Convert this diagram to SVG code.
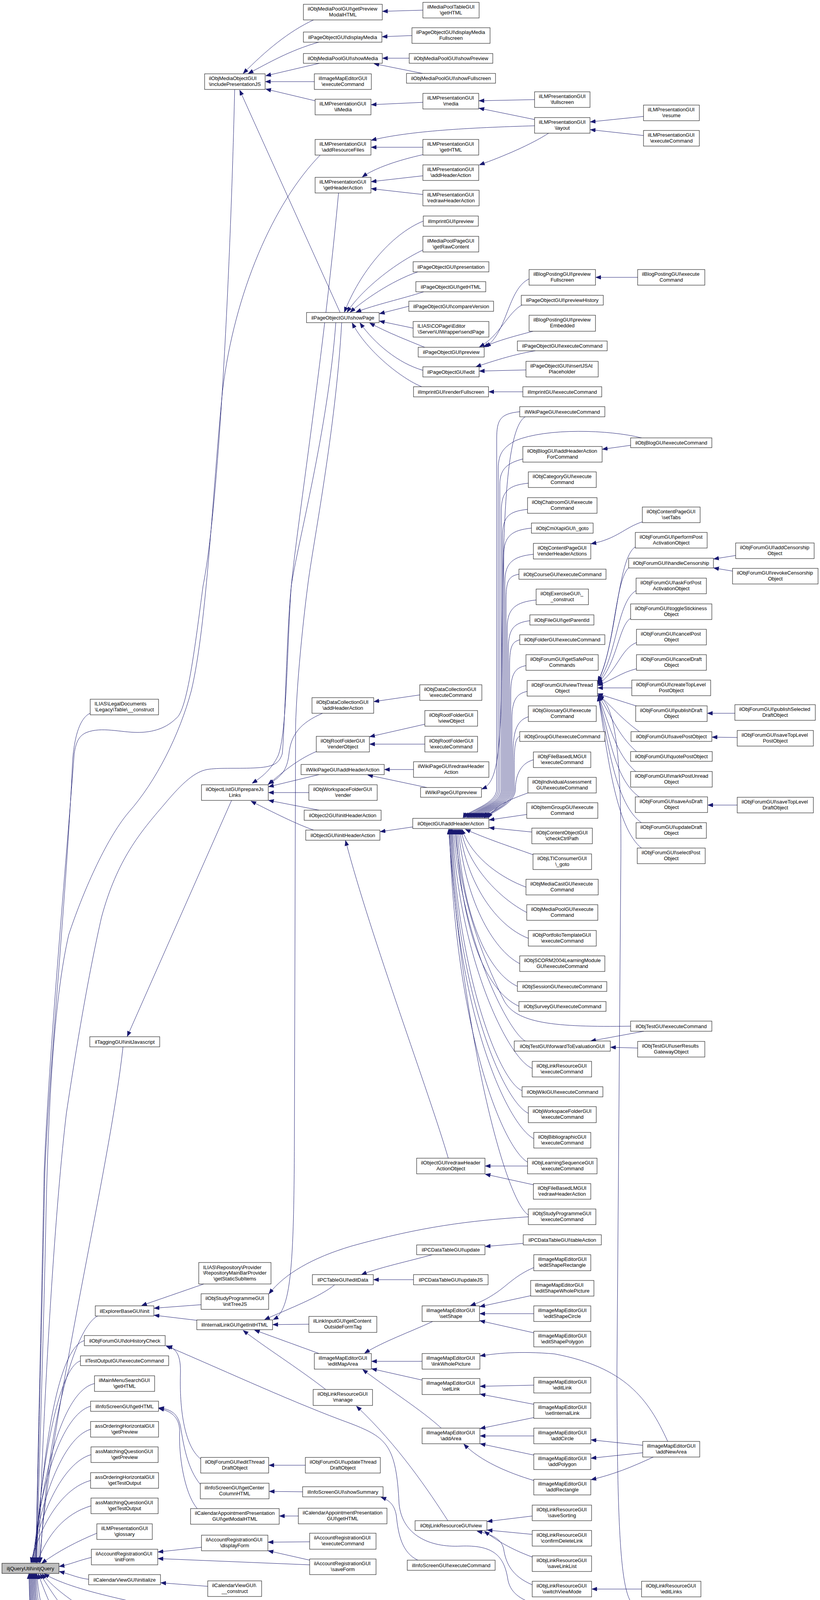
<svg xmlns="http://www.w3.org/2000/svg" width="2100" height="5149" viewBox="0 0 2100 5149">
<defs>
<style>
.n rect{fill:#fff;stroke:#000;stroke-width:1}
#root rect{fill:#bfbfbf}
.n text{font-family:"Liberation Sans",Arial,Helvetica,sans-serif;font-size:13px;fill:#000}
.c{text-anchor:middle}
#edges path{fill:none;stroke:#191970;stroke-width:1;marker-end:url(#arr)}
</style>
<marker id="arr" markerUnits="userSpaceOnUse" markerWidth="14" markerHeight="11" refX="13" refY="5" orient="auto"><path d="M0,0 L13,5 L0,10 z" fill="#191970" stroke="#191970" stroke-width="1"/></marker>
</defs>
<rect width="2100" height="5149" fill="#fff"/>
<g id="edges">
<path d="M601,229 C590,700 560,1300 520,1500 C500,1650 480,1820 451,1839 C420,1870 380,1875 352,1875 C310,1875 260,1860 222,1875 C205,1882 195,1895 190,1930 C170,2200 125,2700 113,3000 C105,3400 95,3800 92,4000"/>
<path d="M820,397 C700,520 600,750 570,1000 C545,1250 530,1600 490,1768 C460,1880 400,2000 329,2080 C270,2150 210,2290 176,2393 C140,2550 125,2800 118,3100 C110,3500 98,3800 95,4000"/>
<path d="M860,826 C840,1100 760,1400 746,1500 C735,1600 730,1850 723,1929 C715,1955 700,1964 650,1966 C600,1968 560,1965 530,1970 C500,1976 470,2000 420,2060 C360,2130 300,2200 260,2348 C230,2480 200,2650 170,2850 C140,3100 110,3600 99,4000"/>
<path d="M231,1826 C210,1835 192,1870 186,1946 C170,2300 125,2750 115,3000 C107,3400 96,3800 93,4000"/>
<path d="M315,2680 C280,3000 130,3600 101,4000"/>
<path d="M250,3369 C190,3400 120,3650 103,4000"/>
<path d="M216,3432 C150,3450 110,3700 91,4000"/>
<path d="M206,3484 C150,3500 105,3750 89,4000"/>
<path d="M242,3542 C160,3560 105,3780 87,4000"/>
<path d="M232,3600 C160,3620 100,3800 85,4000"/>
<path d="M232,3659 C160,3680 100,3850 83,4000"/>
<path d="M233,3724 C160,3745 100,3880 81,4000"/>
<path d="M232,3790 C160,3810 105,3900 79,4000"/>
<path d="M233,3855 C165,3875 120,3930 95,4001"/>
<path d="M248,3925 C200,3945 150,3970 107,4002"/>
<path d="M234,3987 C200,3995 180,4005 152,4010"/>
<path d="M227,4043 C200,4040 180,4030 152,4023"/>
<path d="M244,4134 C200,4110 140,4070 108,4029"/>
<path d="M526,4140 C400,4110 200,4080 113,4029"/>
<path d="M271,4210 C230,4200 170,4140 103,4029"/>
<path d="M220,4251 C190,4220 140,4150 98,4029"/>
<path d="M241,4334 C170,4315 110,4200 94,4029"/>
<path d="M216,4400 C160,4380 105,4250 92,4029"/>
<path d="M220,4465 C160,4445 100,4300 90,4029"/>
<path d="M242,4531 C170,4510 98,4350 88,4029"/>
<path d="M244,4603 C170,4585 96,4400 86,4029"/>
<path d="M228,4671 C160,4655 94,4450 84,4029"/>
<path d="M222,4722 C155,4705 92,4500 82,4029"/>
<path d="M246,4773 C160,4755 90,4550 80,4029"/>
<path d="M234,4829 C160,4810 88,4600 78,4029"/>
<path d="M231,4894 C160,4875 86,4650 76,4029"/>
<path d="M256,4983 C200,4930 90,4700 74,4029"/>
<path d="M803,51 C740,80 680,130 623,188"/>
<path d="M816,108 C740,130 690,160 636,188"/>
<path d="M818,162 L681,194"/>
<path d="M805,209 L680,209"/>
<path d="M807,258 L681,228"/>
<path d="M871,800 L614,231"/>
<path d="M1083,26 L980,29"/>
<path d="M1055,91 L979,94"/>
<path d="M1048,149 L980,149"/>
<path d="M1082,188 L958,163"/>
<path d="M1083,262 L951,268"/>
<path d="M1369,255 L1227,258"/>
<path d="M1369,306 L1227,277"/>
<path d="M1648,298 L1512,312"/>
<path d="M1648,347 L1512,332"/>
<path d="M1369,322 C1200,327 1050,335 951,359"/>
<path d="M1083,377 L951,377"/>
<path d="M1083,396 C1020,410 960,430 928,453"/>
<path d="M1083,450 L951,465"/>
<path d="M1083,498 L951,483"/>
<path d="M1405,341 C1360,370 1290,400 1228,422"/>
<path d="M1084,566 C1000,600 920,700 882,799"/>
<path d="M1083,640 C1000,680 920,750 889,799"/>
<path d="M1070,696 C1000,720 930,770 897,799"/>
<path d="M1085,747 C1030,765 960,780 912,799"/>
<path d="M1047,784 L972,803"/>
<path d="M1058,840 L972,822"/>
<path d="M1090,890 C1040,870 990,850 947,827"/>
<path d="M1083,948 C1020,930 960,880 922,827"/>
<path d="M1080,990 C1030,970 940,900 902,827"/>
<path d="M1355,714 C1300,740 1300,850 1244,888"/>
<path d="M1338,780 C1300,800 1280,860 1228,888"/>
<path d="M1365,848 C1320,860 1280,870 1238,888"/>
<path d="M1371,898 C1330,905 1290,915 1219,939"/>
<path d="M1347,947 L1228,950"/>
<path d="M1339,1003 L1252,1003"/>
<path d="M1633,710 L1526,710"/>
<path d="M867,494 C830,900 760,1350 746,1500 C735,1650 735,1880 712,1935 C695,1970 670,1990 646,2005"/>
<path d="M826,1826 C770,1850 745,1880 740,1930 C736,1970 720,1990 688,2006"/>
<path d="M810,1924 C760,1945 720,1980 687,2008"/>
<path d="M817,1983 L688,2014"/>
<path d="M791,2029 L688,2029"/>
<path d="M817,2074 L688,2049"/>
<path d="M803,2125 C760,2110 700,2080 643,2051"/>
<path d="M593,2049 L326,2653"/>
<path d="M1075,1779 L958,1796"/>
<path d="M1088,1854 L947,1886"/>
<path d="M1088,1905 L947,1905"/>
<path d="M1059,1970 L985,1970"/>
<path d="M1093,2016 L942,1984"/>
<path d="M1345,1067 C1290,1100 1288,1400 1285,1700 C1283,1950 1270,2005 1234,2020"/>
<path d="M1057,2117 L974,2129"/>
<path d="M1148,2965 C1100,2800 950,2400 885,2152"/>
<path d="M1331,1054 C1281,1059 1272,1074 1272,1124 L1272,2020 C1272,2060 1196,2075 1186,2094"/>
<path d="M1643,1121 C1560,1100 1400,1095 1320,1128 C1290,1145 1276,1160 1276,1200 L1276,2020 C1276,2060 1200,2075 1190,2094"/>
<path d="M1339,1175 C1300,1185 1280,1200 1280,1240 L1280,2020 C1280,2060 1205,2075 1195,2094"/>
<path d="M1353,1237 C1303,1242 1284,1257 1284,1307 L1284,2020 C1284,2060 1209,2075 1199,2094"/>
<path d="M1351,1304 C1301,1309 1287,1324 1287,1374 L1287,2020 C1287,2060 1213,2075 1203,2094"/>
<path d="M1361,1352 C1311,1357 1290,1372 1290,1422 L1290,2020 C1290,2060 1217,2075 1207,2094"/>
<path d="M1366,1419 C1316,1424 1293,1439 1293,1489 L1293,2020 C1293,2060 1221,2075 1211,2094"/>
<path d="M1329,1470 C1300,1475 1296,1490 1296,1540 L1296,2020 C1296,2060 1225,2075 1215,2094"/>
<path d="M1373,1536 C1323,1541 1299,1556 1299,1606 L1299,2020 C1299,2060 1229,2075 1219,2094"/>
<path d="M1357,1589 C1317,1594 1302,1609 1302,1659 L1302,2020 C1302,2060 1233,2075 1223,2094"/>
<path d="M1331,1638 C1310,1643 1305,1658 1305,1708 L1305,2020 C1305,2060 1237,2075 1227,2094"/>
<path d="M1347,1704 C1320,1709 1308,1724 1308,1774 L1308,2020 C1308,2060 1241,2075 1231,2094"/>
<path d="M1350,1770 C1325,1775 1311,1790 1311,1840 L1311,2020 C1311,2060 1245,2075 1235,2094"/>
<path d="M1353,1835 C1320,1845 1314,1880 1314,1930 L1314,2020 C1314,2060 1249,2078 1239,2094"/>
<path d="M1331,1885 C1318,1890 1317,1920 1317,1960 L1317,2020 C1317,2060 1252,2078 1242,2094"/>
<path d="M1366,1945 C1330,1955 1320,1990 1320,2020 C1320,2060 1256,2078 1246,2094"/>
<path d="M1352,2030 C1310,2045 1270,2060 1250,2094"/>
<path d="M1349,2085 L1253,2099"/>
<path d="M1362,2130 L1253,2119"/>
<path d="M1365,2188 C1300,2165 1240,2145 1192,2123"/>
<path d="M1347,2271 C1290,2250 1210,2200 1183,2123"/>
<path d="M1349,2336 C1280,2300 1200,2220 1180,2123"/>
<path d="M1353,2402 C1270,2370 1195,2260 1177,2123"/>
<path d="M1331,2467 C1260,2430 1190,2300 1174,2123"/>
<path d="M1325,2525 C1250,2490 1185,2350 1171,2123"/>
<path d="M1329,2576 C1250,2540 1182,2400 1168,2123"/>
<path d="M1615,2627 C1420,2630 1320,2620 1290,2560 C1230,2440 1180,2300 1165,2123"/>
<path d="M1345,2665 C1300,2640 1180,2400 1162,2123"/>
<path d="M1363,2735 C1300,2710 1176,2450 1159,2123"/>
<path d="M1337,2792 C1280,2770 1173,2500 1157,2123"/>
<path d="M1353,2850 C1290,2820 1170,2550 1155,2123"/>
<path d="M1367,2915 C1300,2880 1168,2600 1153,2123"/>
<path d="M1351,2975 C1290,2940 1166,2650 1151,2123"/>
<path d="M1353,3110 C1300,3080 1190,2700 1149,2123"/>
<path d="M1351,2985 L1243,2985"/>
<path d="M1366,3033 L1243,3006"/>
<path d="M1615,1140 L1543,1150"/>
<path d="M1645,1336 C1600,1350 1580,1380 1514,1392"/>
<path d="M1627,1400 C1580,1430 1580,1650 1531,1744"/>
<path d="M1612,1452 C1575,1480 1575,1660 1531,1746"/>
<path d="M1629,1512 C1580,1540 1580,1680 1531,1748"/>
<path d="M1615,1583 C1585,1600 1580,1700 1531,1750"/>
<path d="M1630,1645 C1590,1660 1580,1720 1531,1752"/>
<path d="M1630,1712 C1590,1722 1570,1740 1531,1755"/>
<path d="M1618,1761 L1531,1761"/>
<path d="M1632,1808 L1531,1776"/>
<path d="M1639,1874 C1590,1840 1560,1800 1532,1779"/>
<path d="M1630,1924 C1580,1880 1560,1820 1532,1780"/>
<path d="M1630,1977 C1575,1930 1560,1850 1532,1781"/>
<path d="M1640,2042 C1575,2000 1560,1880 1532,1781"/>
<path d="M1645,2108 C1575,2060 1558,1900 1532,1782"/>
<path d="M1645,2173 C1575,2120 1555,1920 1532,1782"/>
<path d="M1627,4114 C1595,4090 1580,4000 1580,3500 L1590,2200 C1592,1900 1570,1800 1533,1783"/>
<path d="M1619,4127 C1400,4125 1310,4110 1300,4040 C1290,3980 1260,3955 1180,3958 C1100,3962 1030,3930 1022,3850 C1015,3700 990,3680 900,3645 C750,3590 600,3520 425,3445"/>
<path d="M1884,1422 L1828,1431"/>
<path d="M1876,1462 L1828,1454"/>
<path d="M1882,1826 L1812,1826"/>
<path d="M1888,1888 L1824,1887"/>
<path d="M1888,2061 L1813,2061"/>
<path d="M1649,2640 L1513,2665"/>
<path d="M1633,2683 L1564,2681"/>
<path d="M514,3735 C470,3700 460,3600 462,3520 C464,3470 452,3452 428,3446"/>
<path d="M513,3800 C480,3760 470,3700 462,3650 C455,3620 440,3608 407,3604"/>
<path d="M505,3862 C470,3820 458,3720 460,3670 C462,3630 440,3612 407,3606"/>
<path d="M782,3751 L689,3751"/>
<path d="M775,3819 L690,3818"/>
<path d="M1070,3994 C1030,3975 1020,3930 1015,3880 C1010,3850 995,3840 976,3833"/>
<path d="M764,3881 L716,3881"/>
<path d="M516,3961 L405,3973"/>
<path d="M793,4006 L405,3990"/>
<path d="M793,3947 L687,3948"/>
<path d="M793,3994 L687,3970"/>
<path d="M532,4061 L412,4052"/>
<path d="M526,4154 L415,4154"/>
<path d="M804,4154 L677,4154"/>
<path d="M806,4217 L677,4177"/>
<path d="M542,4212 L369,4212"/>
<path d="M509,4271 L441,4271"/>
<path d="M1047,4196 L953,4221"/>
<path d="M1063,4250 L953,4240"/>
<path d="M1063,4300 C1030,4290 990,4270 953,4255"/>
<path d="M1341,4186 L1265,4186"/>
<path d="M1618,4186 L1540,4186"/>
<path d="M1347,4251 L1249,4251"/>
<path d="M1627,4251 L1533,4251"/>
<path d="M1347,4317 L1249,4317"/>
<path d="M1627,4317 L1533,4317"/>
<path d="M509,4617 C470,4640 465,4700 455,4735 C445,4755 420,4762 393,4767"/>
<path d="M512,4668 C480,4690 470,4740 440,4760 C425,4768 410,4770 393,4770"/>
<path d="M512,4734 L390,4762"/>
<path d="M530,4773 L393,4773"/>
<path d="M508,4831 L405,4831"/>
<path d="M513,4896 L408,4896"/>
<path d="M492,4985 L430,4994"/>
<path d="M494,5034 L430,5026"/>
<path d="M526,5103 C490,5085 430,5060 376,5038"/>
<path d="M763,5123 L710,5123"/>
<path d="M522,3287 L363,3342"/>
<path d="M515,3340 L395,3349"/>
<path d="M504,3380 L395,3367"/>
<path d="M1353,3115 C1200,3125 1080,3140 900,3190 C800,3220 730,3260 689,3312"/>
<path d="M857,3289 C820,3320 740,3350 678,3378"/>
<path d="M875,826 C860,1100 800,1400 788,1500 C775,1600 760,1750 757,1857 L754,2900 C753,3250 745,3355 700,3378"/>
<path d="M791,3390 L699,3391"/>
<path d="M817,3465 L652,3405"/>
<path d="M834,3557 C760,3500 680,3450 623,3406"/>
<path d="M1107,3212 C1050,3228 970,3245 926,3263"/>
<path d="M1059,3276 L957,3276"/>
<path d="M1340,3183 L1243,3191"/>
<path d="M1108,3383 C1050,3410 980,3435 934,3464"/>
<path d="M1081,3485 L952,3485"/>
<path d="M1081,3533 L952,3504"/>
<path d="M1130,3656 C1080,3610 1000,3560 929,3506"/>
<path d="M1367,3245 C1320,3265 1300,3290 1270,3310 C1240,3330 1225,3335 1205,3342"/>
<path d="M1359,3317 L1229,3345"/>
<path d="M1367,3363 L1229,3363"/>
<path d="M1367,3412 L1229,3381"/>
<path d="M1710,3690 C1660,3580 1600,3500 1420,3466 C1330,3458 1270,3465 1230,3471"/>
<path d="M1367,3546 L1230,3549"/>
<path d="M1367,3595 L1230,3569"/>
<path d="M1367,3629 L1230,3657"/>
<path d="M1367,3676 L1230,3676"/>
<path d="M1367,3725 L1230,3696"/>
<path d="M1367,3790 C1300,3770 1230,3740 1188,3697"/>
<path d="M1646,3700 L1514,3686"/>
<path d="M1646,3719 L1514,3733"/>
<path d="M1673,3730 C1620,3755 1570,3775 1514,3788"/>
<path d="M1363,3881 L1248,3895"/>
<path d="M1363,3928 L1248,3917"/>
<path d="M1363,3986 C1320,3970 1280,3950 1241,3920"/>
<path d="M1363,4057 C1310,4035 1295,4000 1290,3966 C1285,3940 1260,3928 1222,3920"/>
<path d="M1643,4068 L1516,4068"/>
<path d="M1147,3893 C1100,3820 1020,3700 913,3600"/>
</g>
<g id="nodes">
<g id="root" class="n"><rect x="5" y="4002" width="146" height="26"/><text class="c" x="78" y="4019.5">iljQueryUtil\initjQuery</text></g>
<g id="includePresentationJS" class="n"><rect x="524" y="189" width="155" height="40"/><text x="535" y="205.4">ilObjMediaObjectGUI</text><text class="c" x="601.5" y="220.2">\includePresentationJS</text></g>
<g id="prepareJsLinks" class="n"><rect x="516" y="2009" width="171" height="40"/><text x="527" y="2025.4">ilObjectListGUI\prepareJs</text><text class="c" x="601.5" y="2040.2">Links</text></g>
<g id="repoProvider" class="n"><rect x="509" y="3232" width="185" height="55"/><text x="520" y="3248.6">ILIAS\Repository\Provider</text><text x="520" y="3263.4">\RepositoryMainBarProvider</text><text class="c" x="601.5" y="3278.2">\getStaticSubItems</text></g>
<g id="initTreeJS" class="n"><rect x="515" y="3312" width="173" height="40"/><text x="526" y="3328.4">ilObjStudyProgrammeGUI</text><text class="c" x="601.5" y="3343.2">\initTreeJS</text></g>
<g id="getInitHTML" class="n"><rect x="504" y="3379" width="194" height="25"/><text class="c" x="601" y="3396">ilInternalLinkGUI\getInitHTML</text></g>
<g id="editThreadDraft" class="n"><rect x="514" y="3731" width="174" height="40"/><text x="525" y="3747.4">ilObjForumGUI\editThread</text><text class="c" x="601" y="3762.2">DraftObject</text></g>
<g id="getCenterColumnHTML" class="n"><rect x="513" y="3797" width="176" height="40"/><text x="524" y="3813.4">ilInfoScreenGUI\getCenter</text><text class="c" x="601" y="3828.2">ColumnHTML</text></g>
<g id="getModalHTML" class="n"><rect x="488" y="3862" width="227" height="40"/><text x="499" y="3878.4">ilCalendarAppointmentPresentation</text><text class="c" x="601.5" y="3893.2">GUI\getModalHTML</text></g>
<g id="displayForm" class="n"><rect x="516" y="3930" width="170" height="40"/><text x="527" y="3946.4">ilAccountRegistrationGUI</text><text class="c" x="601" y="3961.2">\displayForm</text></g>
<g id="calConstruct" class="n"><rect x="532" y="4047" width="138" height="40"/><text x="543" y="4063.4">ilCalendarViewGUI\</text><text class="c" x="601" y="4078.2">__construct</text></g>
<g id="prepareBasicJS" class="n"><rect x="526" y="4134" width="150" height="40"/><text x="537" y="4150.4">ilGlobalPageTemplate</text><text class="c" x="601" y="4165.2">\prepareBasicJS</text></g>
<g id="chartGetHTML" class="n"><rect x="542" y="4199" width="119" height="26"/><text class="c" x="601.5" y="4216.5">ilChart\getHTML</text></g>
<g id="loadItems" class="n"><rect x="509" y="4251" width="185" height="40"/><text x="520" y="4267.4">ilLPObjectStatisticsLPTable</text><text class="c" x="601.5" y="4282.2">GUI\loadItems</text></g>
<g id="getTableFilterHTML" class="n"><rect x="488" y="4592" width="227" height="25"/><text class="c" x="601.5" y="4609">ilTextInputGUI\getTableFilterHTML</text></g>
<g id="getToolbarHTML" class="n"><rect x="497" y="4642" width="208" height="25"/><text class="c" x="601" y="4659">ilTextInputGUI\getToolbarHTML</text></g>
<g id="assLongmenu" class="n"><rect x="512" y="4694" width="178" height="40"/><text x="523" y="4710.4">ilAssLongmenuCorrections</text><text class="c" x="601" y="4725.2">InputGUI\insert</text></g>
<g id="textInsert" class="n"><rect x="530" y="4760" width="143" height="26"/><text class="c" x="601.5" y="4777.5">ilTextInputGUI\insert</text></g>
<g id="mnoGetHTML" class="n"><rect x="508" y="4811" width="187" height="40"/><text x="519" y="4827.4">ilMultipleNestedOrdering</text><text class="c" x="601.5" y="4842.2">ElementsInputGUI\getHTML</text></g>
<g id="sendPrintView" class="n"><rect x="513" y="4876" width="176" height="40"/><text x="524" y="4892.4">ILIAS\Export\PrintProcess</text><text class="c" x="601" y="4907.2">GUI\sendPrintView</text></g>
<g id="applyMan" class="n"><rect x="492" y="4943" width="219" height="55"/><text x="503" y="4959.6">ilTestScoringByQuestions</text><text x="503" y="4974.4">GUI\applyManScoringByQuestion</text><text class="c" x="601.5" y="4989.2">Filter</text></g>
<g id="resetMan" class="n"><rect x="494" y="5022" width="215" height="55"/><text x="505" y="5038.6">ilTestScoringByQuestions</text><text x="505" y="5053.4">GUI\resetManScoringByQuestion</text><text class="c" x="601.5" y="5068.2">Filter</text></g>
<g id="saveMan" class="n"><rect x="494" y="5103" width="215" height="40"/><text x="505" y="5119.4">ilTestScoringByQuestions</text><text class="c" x="601.5" y="5134.2">GUI\saveManScoringByQuestion</text></g>
<g id="legalDocs" class="n"><rect x="231" y="1790" width="175" height="40"/><text x="242" y="1806.4">ILIAS\LegalDocuments</text><text class="c" x="318.5" y="1821.2">\Legacy\Table\__construct</text></g>
<g id="initJavascript" class="n"><rect x="230" y="2654" width="179" height="26"/><text class="c" x="319.5" y="2671.5">ilTaggingGUI\initJavascript</text></g>
<g id="explorerInit" class="n"><rect x="244" y="3343" width="150" height="26"/><text class="c" x="319" y="3360.5">ilExplorerBaseGUI\init</text></g>
<g id="doHistoryCheck" class="n"><rect x="216" y="3419" width="207" height="26"/><text class="c" x="319.5" y="3436.5">ilObjForumGUI\doHistoryCheck</text></g>
<g id="testOutput" class="n"><rect x="206" y="3471" width="226" height="25"/><text class="c" x="319" y="3488">ilTestOutputGUI\executeCommand</text></g>
<g id="mainMenuSearch" class="n"><rect x="242" y="3522" width="154" height="40"/><text x="253" y="3538.4">ilMainMenuSearchGUI</text><text class="c" x="319" y="3553.2">\getHTML</text></g>
<g id="infoGetHTML" class="n"><rect x="232" y="3587" width="174" height="26"/><text class="c" x="319" y="3604.5">ilInfoScreenGUI\getHTML</text></g>
<g id="aohGetPreview" class="n"><rect x="232" y="3639" width="174" height="40"/><text x="243" y="3655.4">assOrderingHorizontalGUI</text><text class="c" x="319" y="3670.2">\getPreview</text></g>
<g id="amqGetPreview" class="n"><rect x="233" y="3704" width="172" height="40"/><text x="244" y="3720.4">assMatchingQuestionGUI</text><text class="c" x="319" y="3735.2">\getPreview</text></g>
<g id="aohTestOutput" class="n"><rect x="232" y="3770" width="174" height="40"/><text x="243" y="3786.4">assOrderingHorizontalGUI</text><text class="c" x="319" y="3801.2">\getTestOutput</text></g>
<g id="amqTestOutput" class="n"><rect x="233" y="3835" width="172" height="40"/><text x="244" y="3851.4">assMatchingQuestionGUI</text><text class="c" x="319" y="3866.2">\getTestOutput</text></g>
<g id="glossary" class="n"><rect x="248" y="3901" width="142" height="40"/><text x="259" y="3917.4">ilLMPresentationGUI</text><text class="c" x="319" y="3932.2">\glossary</text></g>
<g id="initForm" class="n"><rect x="234" y="3966" width="170" height="40"/><text x="245" y="3982.4">ilAccountRegistrationGUI</text><text class="c" x="319" y="3997.2">\initForm</text></g>
<g id="calInitialize" class="n"><rect x="227" y="4031" width="184" height="26"/><text class="c" x="319" y="4048.5">ilCalendarViewGUI\initialize</text></g>
<g id="onScreenChat" class="n"><rect x="225" y="4134" width="189" height="40"/><text x="236" y="4150.4">ilOnScreenChatGUI\initialize</text><text class="c" x="319.5" y="4165.2">Frontend</text></g>
<g id="chartInitJS" class="n"><rect x="271" y="4199" width="97" height="26"/><text class="c" x="319.5" y="4216.5">ilChart\initJS</text></g>
<g id="lpInit" class="n"><rect x="199" y="4251" width="241" height="40"/><text x="210" y="4267.4">ilLPObjectStatisticsLPTable</text><text class="c" x="319.5" y="4282.2">GUI\initLearningProgressDetailsLayer</text></g>
<g id="rte" class="n"><rect x="241" y="4316" width="156" height="40"/><text x="252" y="4332.4">ilRTEGlobalTemplate</text><text class="c" x="319" y="4347.2">\loadStandardTemplate</text></g>
<g id="dcGlobal" class="n"><rect x="216" y="4382" width="206" height="40"/><text x="227" y="4398.4">ilDataCollectionGlobalTemplate</text><text class="c" x="319" y="4413.2">\loadStandardTemplate</text></g>
<g id="globalTpl" class="n"><rect x="220" y="4447" width="199" height="40"/><text x="231" y="4463.4">ilGlobalTemplate\loadStandard</text><text class="c" x="319.5" y="4478.2">Template</text></g>
<g id="sessionReminder" class="n"><rect x="242" y="4513" width="154" height="40"/><text x="253" y="4529.4">ilSessionReminderGUI</text><text class="c" x="319" y="4544.2">\populatePage</text></g>
<g id="notifications" class="n"><rect x="244" y="4578" width="150" height="55"/><text x="255" y="4594.6">ILIAS\Notifications</text><text x="255" y="4609.4">\ilNotificationOSDGUI</text><text class="c" x="319" y="4624.2">\populatePage</text></g>
<g id="printPost" class="n"><rect x="228" y="4658" width="183" height="26"/><text class="c" x="319.5" y="4675.5">ilForumExportGUI\printPost</text></g>
<g id="printThread" class="n"><rect x="222" y="4709" width="195" height="26"/><text class="c" x="319.5" y="4726.5">ilForumExportGUI\printThread</text></g>
<g id="textRender" class="n"><rect x="246" y="4760" width="146" height="26"/><text class="c" x="319" y="4777.5">ilTextInputGUI\render</text></g>
<g id="mnoRender" class="n"><rect x="234" y="4811" width="170" height="40"/><text x="245" y="4827.4">ilMultipleNestedOrdering</text><text class="c" x="319" y="4842.2">ElementsInputGUI\render</text></g>
<g id="renderPrintView" class="n"><rect x="231" y="4876" width="176" height="40"/><text x="242" y="4892.4">ILIAS\Export\PrintProcess</text><text class="c" x="319" y="4907.2">GUI\renderPrintView</text></g>
<g id="showMan" class="n"><rect x="210" y="4983" width="219" height="55"/><text x="221" y="4999.6">ilTestScoringByQuestions</text><text x="221" y="5014.4">GUI\showManScoringByQuestion</text><text class="c" x="319.5" y="5029.2">ParticipantsTable</text></g>
<g id="getPreviewModal" class="n"><rect x="777" y="11" width="202" height="40"/><text x="788" y="27.4">ilObjMediaPoolGUI\getPreview</text><text class="c" x="878" y="42.2">ModalHTML</text></g>
<g id="displayMedia" class="n"><rect x="777" y="82" width="201" height="26"/><text class="c" x="877.5" y="99.5">ilPageObjectGUI\displayMedia</text></g>
<g id="showMedia" class="n"><rect x="777" y="137" width="202" height="25"/><text class="c" x="878" y="154">ilObjMediaPoolGUI\showMedia</text></g>
<g id="imeExecute" class="n"><rect x="805" y="189" width="146" height="40"/><text x="816" y="205.4">ilImageMapEditorGUI</text><text class="c" x="878" y="220.2">\executeCommand</text></g>
<g id="ilMedia" class="n"><rect x="807" y="254" width="143" height="40"/><text x="818" y="270.4">ilLMPresentationGUI</text><text class="c" x="878.5" y="285.2">\ilMedia</text></g>
<g id="addResourceFiles" class="n"><rect x="807" y="357" width="143" height="40"/><text x="818" y="373.4">ilLMPresentationGUI</text><text class="c" x="878.5" y="388.2">\addResourceFiles</text></g>
<g id="getHeaderAction" class="n"><rect x="807" y="454" width="143" height="40"/><text x="818" y="470.4">ilLMPresentationGUI</text><text class="c" x="878.5" y="485.2">\getHeaderAction</text></g>
<g id="showPage" class="n"><rect x="785" y="800" width="186" height="26"/><text class="c" x="878" y="817.5">ilPageObjectGUI\showPage</text></g>
<g id="dcAddHeaderAction" class="n"><rect x="799" y="1786" width="158" height="40"/><text x="810" y="1802.4">ilObjDataCollectionGUI</text><text class="c" x="878" y="1817.2">\addHeaderAction</text></g>
<g id="renderObject" class="n"><rect x="810" y="1885" width="136" height="40"/><text x="821" y="1901.4">ilObjRootFolderGUI</text><text class="c" x="878" y="1916.2">\renderObject</text></g>
<g id="wikiAddHeaderAction" class="n"><rect x="771" y="1957" width="213" height="26"/><text class="c" x="877.5" y="1974.5">ilWikiPageGUI\addHeaderAction</text></g>
<g id="wsRender" class="n"><rect x="791" y="2009" width="175" height="40"/><text x="802" y="2025.4">ilObjWorkspaceFolderGUI</text><text class="c" x="878.5" y="2040.2">\render</text></g>
<g id="obj2Init" class="n"><rect x="779" y="2074" width="197" height="26"/><text class="c" x="877.5" y="2091.5">ilObject2GUI\initHeaderAction</text></g>
<g id="objInit" class="n"><rect x="783" y="2125" width="190" height="26"/><text class="c" x="878" y="2142.5">ilObjectGUI\initHeaderAction</text></g>
<g id="editData" class="n"><rect x="800" y="3263" width="156" height="26"/><text class="c" x="878" y="3280.5">ilPCTableGUI\editData</text></g>
<g id="linkInput" class="n"><rect x="791" y="3370" width="174" height="41"/><text x="802" y="3386.4">ilLinkInputGUI\getContent</text><text class="c" x="878" y="3401.2">OutsideFormTag</text></g>
<g id="editMapArea" class="n"><rect x="805" y="3465" width="146" height="40"/><text x="816" y="3481.4">ilImageMapEditorGUI</text><text class="c" x="878" y="3496.2">\editMapArea</text></g>
<g id="manage" class="n"><rect x="802" y="3557" width="152" height="41"/><text x="813" y="3573.4">ilObjLinkResourceGUI</text><text class="c" x="878" y="3588.2">\manage</text></g>
<g id="updateThreadDraft" class="n"><rect x="782" y="3731" width="192" height="40"/><text x="793" y="3747.4">ilObjForumGUI\updateThread</text><text class="c" x="878" y="3762.2">DraftObject</text></g>
<g id="showSummary" class="n"><rect x="775" y="3806" width="206" height="26"/><text class="c" x="878" y="3823.5">ilInfoScreenGUI\showSummary</text></g>
<g id="calGetHTML" class="n"><rect x="764" y="3861" width="227" height="40"/><text x="775" y="3877.4">ilCalendarAppointmentPresentation</text><text class="c" x="877.5" y="3892.2">GUI\getHTML</text></g>
<g id="accExecute" class="n"><rect x="793" y="3925" width="170" height="41"/><text x="804" y="3941.4">ilAccountRegistrationGUI</text><text class="c" x="878" y="3956.2">\executeCommand</text></g>
<g id="saveForm" class="n"><rect x="793" y="3991" width="170" height="40"/><text x="804" y="4007.4">ilAccountRegistrationGUI</text><text class="c" x="878" y="4022.2">\saveForm</text></g>
<g id="printToStdout" class="n"><rect x="804" y="4134" width="148" height="40"/><text x="815" y="4150.4">ilGlobalPageTemplate</text><text class="c" x="878" y="4165.2">\printToStdout</text></g>
<g id="printToString" class="n"><rect x="804" y="4215" width="148" height="40"/><text x="815" y="4231.4">ilGlobalPageTemplate</text><text class="c" x="878" y="4246.2">\printToString</text></g>
<g id="checkConstraints" class="n"><rect x="763" y="5103" width="230" height="40"/><text x="774" y="5119.4">ilTestScoringByQuestions</text><text class="c" x="878" y="5134.2">GUI\checkConstraintsBeforeSaving</text></g>
<g id="mptGetHTML" class="n"><rect x="1083" y="6" width="144" height="40"/><text x="1094" y="22.4">ilMediaPoolTableGUI</text><text class="c" x="1155" y="37.2">\getHTML</text></g>
<g id="displayMediaFS" class="n"><rect x="1055" y="71" width="200" height="40"/><text x="1066" y="87.4">ilPageObjectGUI\displayMedia</text><text class="c" x="1155" y="102.2">Fullscreen</text></g>
<g id="showPreview" class="n"><rect x="1048" y="137" width="214" height="25"/><text class="c" x="1155" y="154">ilObjMediaPoolGUI\showPreview</text></g>
<g id="showFullscreen" class="n"><rect x="1041" y="188" width="228" height="25"/><text class="c" x="1155" y="205">ilObjMediaPoolGUI\showFullscreen</text></g>
<g id="lmMedia" class="n"><rect x="1083" y="239" width="143" height="40"/><text x="1094" y="255.4">ilLMPresentationGUI</text><text class="c" x="1154.5" y="270.2">\media</text></g>
<g id="lmGetHTML" class="n"><rect x="1083" y="357" width="143" height="40"/><text x="1094" y="373.4">ilLMPresentationGUI</text><text class="c" x="1154.5" y="388.2">\getHTML</text></g>
<g id="lmAddHeaderAction" class="n"><rect x="1083" y="422" width="143" height="40"/><text x="1094" y="438.4">ilLMPresentationGUI</text><text class="c" x="1154.5" y="453.2">\addHeaderAction</text></g>
<g id="lmRedraw" class="n"><rect x="1083" y="487" width="144" height="40"/><text x="1094" y="503.4">ilLMPresentationGUI</text><text class="c" x="1155" y="518.2">\redrawHeaderAction</text></g>
<g id="imprintPreview" class="n"><rect x="1084" y="553" width="141" height="26"/><text class="c" x="1154.5" y="570.5">ilImprintGUI\preview</text></g>
<g id="getRawContent" class="n"><rect x="1083" y="605" width="143" height="40"/><text x="1094" y="621.4">ilMediaPoolPageGUI</text><text class="c" x="1154.5" y="636.2">\getRawContent</text></g>
<g id="presentation" class="n"><rect x="1058" y="670" width="194" height="26"/><text class="c" x="1155" y="687.5">ilPageObjectGUI\presentation</text></g>
<g id="poGetHTML" class="n"><rect x="1065" y="721" width="179" height="26"/><text class="c" x="1154.5" y="738.5">ilPageObjectGUI\getHTML</text></g>
<g id="compareVersion" class="n"><rect x="1047" y="771" width="217" height="26"/><text class="c" x="1155.5" y="788.5">ilPageObjectGUI\compareVersion</text></g>
<g id="sendPage" class="n"><rect x="1058" y="823" width="194" height="40"/><text x="1069" y="839.4">ILIAS\COPage\Editor</text><text class="c" x="1155" y="854.2">\Server\UIWrapper\sendPage</text></g>
<g id="poPreview" class="n"><rect x="1071" y="889" width="169" height="25"/><text class="c" x="1155.5" y="906">ilPageObjectGUI\preview</text></g>
<g id="poEdit" class="n"><rect x="1083" y="939" width="144" height="26"/><text class="c" x="1155" y="956.5">ilPageObjectGUI\edit</text></g>
<g id="renderFullscreen" class="n"><rect x="1059" y="990" width="192" height="26"/><text class="c" x="1155" y="1007.5">ilImprintGUI\renderFullscreen</text></g>
<g id="dcExecute" class="n"><rect x="1075" y="1753" width="159" height="40"/><text x="1086" y="1769.4">ilObjDataCollectionGUI</text><text class="c" x="1154.5" y="1784.2">\executeCommand</text></g>
<g id="rfViewObject" class="n"><rect x="1088" y="1819" width="135" height="40"/><text x="1099" y="1835.4">ilObjRootFolderGUI</text><text class="c" x="1155.5" y="1850.2">\viewObject</text></g>
<g id="rfExecute" class="n"><rect x="1088" y="1885" width="135" height="40"/><text x="1099" y="1901.4">ilObjRootFolderGUI</text><text class="c" x="1155.5" y="1916.2">\executeCommand</text></g>
<g id="wikiRedraw" class="n"><rect x="1059" y="1950" width="193" height="40"/><text x="1070" y="1966.4">ilWikiPageGUI\redrawHeader</text><text class="c" x="1155.5" y="1981.2">Action</text></g>
<g id="wikiPreview" class="n"><rect x="1077" y="2016" width="156" height="25"/><text class="c" x="1155" y="2033">ilWikiPageGUI\preview</text></g>
<g id="objAddHeaderAction" class="n"><rect x="1057" y="2095" width="195" height="26"/><text class="c" x="1154.5" y="2112.5">ilObjectGUI\addHeaderAction</text></g>
<g id="redrawHAO" class="n"><rect x="1067" y="2965" width="175" height="40"/><text x="1078" y="2981.4">ilObjectGUI\redrawHeader</text><text class="c" x="1154.5" y="2996.2">ActionObject</text></g>
<g id="pcdtUpdate" class="n"><rect x="1067" y="3187" width="175" height="25"/><text class="c" x="1154.5" y="3204">ilPCDataTableGUI\update</text></g>
<g id="pcdtUpdateJS" class="n"><rect x="1059" y="3263" width="191" height="26"/><text class="c" x="1154.5" y="3280.5">ilPCDataTableGUI\updateJS</text></g>
<g id="setShape" class="n"><rect x="1081" y="3343" width="147" height="40"/><text x="1092" y="3359.4">ilImageMapEditorGUI</text><text class="c" x="1154.5" y="3374.2">\setShape</text></g>
<g id="linkWholePicture" class="n"><rect x="1081" y="3465" width="148" height="40"/><text x="1092" y="3481.4">ilImageMapEditorGUI</text><text class="c" x="1155" y="3496.2">\linkWholePicture</text></g>
<g id="setLink" class="n"><rect x="1081" y="3529" width="148" height="41"/><text x="1092" y="3545.4">ilImageMapEditorGUI</text><text class="c" x="1155" y="3560.2">\setLink</text></g>
<g id="addArea" class="n"><rect x="1081" y="3656" width="148" height="40"/><text x="1092" y="3672.4">ilImageMapEditorGUI</text><text class="c" x="1155" y="3687.2">\addArea</text></g>
<g id="lrView" class="n"><rect x="1063" y="3893" width="184" height="25"/><text class="c" x="1155" y="3910">ilObjLinkResourceGUI\view</text></g>
<g id="infoExecute" class="n"><rect x="1043" y="3994" width="225" height="26"/><text class="c" x="1155.5" y="4011.5">ilInfoScreenGUI\executeCommand</text></g>
<g id="notesWrite" class="n"><rect x="1047" y="4166" width="217" height="40"/><text x="1058" y="4182.4">ILIAS\Notes\Export</text><text class="c" x="1155.5" y="4197.2">\NotesHtmlExport\writeExportFile</text></g>
<g id="blogWrite" class="n"><rect x="1063" y="4231" width="185" height="40"/><text x="1074" y="4247.4">ILIAS\Blog\Export\BlogHtml</text><text class="c" x="1155.5" y="4262.2">Export\writeExportFile</text></g>
<g id="wikiExportPage" class="n"><rect x="1063" y="4296" width="185" height="41"/><text x="1074" y="4312.4">ILIAS\Wiki\Export\WikiHtml</text><text class="c" x="1155.5" y="4327.2">Export\exportPageHTML</text></g>
<g id="lmFullscreen" class="n"><rect x="1369" y="235" width="142" height="40"/><text x="1380" y="251.4">ilLMPresentationGUI</text><text class="c" x="1440" y="266.2">\fullscreen</text></g>
<g id="lmLayout" class="n"><rect x="1369" y="301" width="142" height="40"/><text x="1380" y="317.4">ilLMPresentationGUI</text><text class="c" x="1440" y="332.2">\layout</text></g>
<g id="bpPreviewFS" class="n"><rect x="1355" y="690" width="170" height="40"/><text x="1366" y="706.4">ilBlogPostingGUI\preview</text><text class="c" x="1440" y="721.2">Fullscreen</text></g>
<g id="previewHistory" class="n"><rect x="1335" y="756" width="210" height="25"/><text class="c" x="1440" y="773">ilPageObjectGUI\previewHistory</text></g>
<g id="bpPreviewEmb" class="n"><rect x="1355" y="807" width="170" height="41"/><text x="1366" y="823.4">ilBlogPostingGUI\preview</text><text class="c" x="1440" y="838.2">Embedded</text></g>
<g id="poExecute" class="n"><rect x="1325" y="873" width="230" height="25"/><text class="c" x="1440" y="890">ilPageObjectGUI\executeCommand</text></g>
<g id="insertJS" class="n"><rect x="1347" y="925" width="185" height="40"/><text x="1358" y="941.4">ilPageObjectGUI\insertJSAt</text><text class="c" x="1439.5" y="956.2">Placeholder</text></g>
<g id="imprintExecute" class="n"><rect x="1339" y="990" width="202" height="26"/><text class="c" x="1440" y="1007.5">ilImprintGUI\executeCommand</text></g>
<g id="wikiPageExecute" class="n"><rect x="1331" y="1041" width="218" height="26"/><text class="c" x="1440" y="1058.5">ilWikiPageGUI\executeCommand</text></g>
<g id="blogAHAFC" class="n"><rect x="1339" y="1143" width="203" height="40"/><text x="1350" y="1159.4">ilObjBlogGUI\addHeaderAction</text><text class="c" x="1440.5" y="1174.2">ForCommand</text></g>
<g id="category" class="n"><rect x="1353" y="1208" width="174" height="40"/><text x="1364" y="1224.4">ilObjCategoryGUI\execute</text><text class="c" x="1440" y="1239.2">Command</text></g>
<g id="chatroom" class="n"><rect x="1351" y="1274" width="178" height="40"/><text x="1362" y="1290.4">ilObjChatroomGUI\execute</text><text class="c" x="1440" y="1305.2">Command</text></g>
<g id="cmiXapi" class="n"><rect x="1361" y="1339" width="158" height="26"/><text class="c" x="1440" y="1356.5">ilObjCmiXapiGUI\_goto</text></g>
<g id="renderHA" class="n"><rect x="1366" y="1391" width="147" height="40"/><text x="1377" y="1407.4">ilObjContentPageGUI</text><text class="c" x="1439.5" y="1422.2">\renderHeaderActions</text></g>
<g id="course" class="n"><rect x="1329" y="1457" width="223" height="26"/><text class="c" x="1440.5" y="1474.5">ilObjCourseGUI\executeCommand</text></g>
<g id="exercise" class="n"><rect x="1373" y="1508" width="134" height="40"/><text x="1384" y="1524.4">ilObjExerciseGUI\_</text><text class="c" x="1440" y="1539.2">_construct</text></g>
<g id="fileParent" class="n"><rect x="1357" y="1574" width="164" height="26"/><text class="c" x="1439" y="1591.5">ilObjFileGUI\getParentId</text></g>
<g id="folder" class="n"><rect x="1331" y="1625" width="218" height="25"/><text class="c" x="1440" y="1642">ilObjFolderGUI\executeCommand</text></g>
<g id="safePost" class="n"><rect x="1347" y="1676" width="185" height="40"/><text x="1358" y="1692.4">ilObjForumGUI\getSafePost</text><text class="c" x="1439.5" y="1707.2">Commands</text></g>
<g id="viewThread" class="n"><rect x="1350" y="1742" width="180" height="40"/><text x="1361" y="1758.4">ilObjForumGUI\viewThread</text><text class="c" x="1440" y="1773.2">Object</text></g>
<g id="glossaryExec" class="n"><rect x="1353" y="1807" width="174" height="40"/><text x="1364" y="1823.4">ilObjGlossaryGUI\execute</text><text class="c" x="1440" y="1838.2">Command</text></g>
<g id="group" class="n"><rect x="1331" y="1873" width="218" height="25"/><text class="c" x="1440" y="1890">ilObjGroupGUI\executeCommand</text></g>
<g id="fblmExecute" class="n"><rect x="1366" y="1925" width="147" height="40"/><text x="1377" y="1941.4">ilObjFileBasedLMGUI</text><text class="c" x="1439.5" y="1956.2">\executeCommand</text></g>
<g id="indAss" class="n"><rect x="1352" y="1990" width="175" height="40"/><text x="1363" y="2006.4">ilObjIndividualAssessment</text><text class="c" x="1439.5" y="2021.2">GUI\executeCommand</text></g>
<g id="itemGroup" class="n"><rect x="1349" y="2055" width="182" height="40"/><text x="1360" y="2071.4">ilObjItemGroupGUI\execute</text><text class="c" x="1440" y="2086.2">Command</text></g>
<g id="checkCtrl" class="n"><rect x="1362" y="2120" width="155" height="40"/><text x="1373" y="2136.4">ilObjContentObjectGUI</text><text class="c" x="1439.5" y="2151.2">\checkCtrlPath</text></g>
<g id="lti" class="n"><rect x="1365" y="2186" width="150" height="40"/><text x="1376" y="2202.4">ilObjLTIConsumerGUI</text><text class="c" x="1440" y="2217.2">\_goto</text></g>
<g id="mediaCast" class="n"><rect x="1347" y="2251" width="185" height="40"/><text x="1358" y="2267.4">ilObjMediaCastGUI\execute</text><text class="c" x="1439.5" y="2282.2">Command</text></g>
<g id="mediaPoolExec" class="n"><rect x="1349" y="2316" width="182" height="40"/><text x="1360" y="2332.4">ilObjMediaPoolGUI\execute</text><text class="c" x="1440" y="2347.2">Command</text></g>
<g id="portfolio" class="n"><rect x="1353" y="2382" width="174" height="40"/><text x="1364" y="2398.4">ilObjPortfolioTemplateGUI</text><text class="c" x="1440" y="2413.2">\executeCommand</text></g>
<g id="scorm" class="n"><rect x="1331" y="2447" width="218" height="40"/><text x="1342" y="2463.4">ilObjSCORM2004LearningModule</text><text class="c" x="1440" y="2478.2">GUI\executeCommand</text></g>
<g id="session" class="n"><rect x="1325" y="2513" width="229" height="25"/><text class="c" x="1439.5" y="2530">ilObjSessionGUI\executeCommand</text></g>
<g id="survey" class="n"><rect x="1329" y="2564" width="223" height="25"/><text class="c" x="1440.5" y="2581">ilObjSurveyGUI\executeCommand</text></g>
<g id="forwardEval" class="n"><rect x="1317" y="2665" width="246" height="26"/><text class="c" x="1440" y="2682.5">ilObjTestGUI\forwardToEvaluationGUI</text></g>
<g id="lrExecute" class="n"><rect x="1363" y="2717" width="152" height="40"/><text x="1374" y="2733.4">ilObjLinkResourceGUI</text><text class="c" x="1439" y="2748.2">\executeCommand</text></g>
<g id="wikiExecute" class="n"><rect x="1337" y="2782" width="207" height="26"/><text class="c" x="1440.5" y="2799.5">ilObjWikiGUI\executeCommand</text></g>
<g id="wsExecute" class="n"><rect x="1353" y="2833" width="174" height="41"/><text x="1364" y="2849.4">ilObjWorkspaceFolderGUI</text><text class="c" x="1440" y="2864.2">\executeCommand</text></g>
<g id="biblio" class="n"><rect x="1367" y="2899" width="146" height="40"/><text x="1378" y="2915.4">ilObjBibliographicGUI</text><text class="c" x="1440" y="2930.2">\executeCommand</text></g>
<g id="learnSeq" class="n"><rect x="1351" y="2965" width="178" height="40"/><text x="1362" y="2981.4">ilObjLearningSequenceGUI</text><text class="c" x="1440" y="2996.2">\executeCommand</text></g>
<g id="fblmRedraw" class="n"><rect x="1366" y="3030" width="147" height="40"/><text x="1377" y="3046.4">ilObjFileBasedLMGUI</text><text class="c" x="1439.5" y="3061.2">\redrawHeaderAction</text></g>
<g id="spExecute" class="n"><rect x="1353" y="3095" width="173" height="40"/><text x="1364" y="3111.4">ilObjStudyProgrammeGUI</text><text class="c" x="1439.5" y="3126.2">\executeCommand</text></g>
<g id="tableAction" class="n"><rect x="1340" y="3161" width="200" height="26"/><text class="c" x="1440" y="3178.5">ilPCDataTableGUI\tableAction</text></g>
<g id="esRect" class="n"><rect x="1367" y="3212" width="146" height="41"/><text x="1378" y="3228.4">ilImageMapEditorGUI</text><text class="c" x="1440" y="3243.2">\editShapeRectangle</text></g>
<g id="esWhole" class="n"><rect x="1359" y="3278" width="162" height="40"/><text x="1370" y="3294.4">ilImageMapEditorGUI</text><text class="c" x="1440" y="3309.2">\editShapeWholePicture</text></g>
<g id="esCircle" class="n"><rect x="1367" y="3343" width="146" height="40"/><text x="1378" y="3359.4">ilImageMapEditorGUI</text><text class="c" x="1440" y="3374.2">\editShapeCircle</text></g>
<g id="esPolygon" class="n"><rect x="1367" y="3408" width="146" height="40"/><text x="1378" y="3424.4">ilImageMapEditorGUI</text><text class="c" x="1440" y="3439.2">\editShapePolygon</text></g>
<g id="editLink" class="n"><rect x="1367" y="3526" width="146" height="40"/><text x="1378" y="3542.4">ilImageMapEditorGUI</text><text class="c" x="1440" y="3557.2">\editLink</text></g>
<g id="setInternalLink" class="n"><rect x="1367" y="3591" width="146" height="40"/><text x="1378" y="3607.4">ilImageMapEditorGUI</text><text class="c" x="1440" y="3622.2">\setInternalLink</text></g>
<g id="addCircle" class="n"><rect x="1367" y="3656" width="146" height="40"/><text x="1378" y="3672.4">ilImageMapEditorGUI</text><text class="c" x="1440" y="3687.2">\addCircle</text></g>
<g id="addPolygon" class="n"><rect x="1367" y="3722" width="146" height="40"/><text x="1378" y="3738.4">ilImageMapEditorGUI</text><text class="c" x="1440" y="3753.2">\addPolygon</text></g>
<g id="addRectangle" class="n"><rect x="1367" y="3787" width="146" height="40"/><text x="1378" y="3803.4">ilImageMapEditorGUI</text><text class="c" x="1440" y="3818.2">\addRectangle</text></g>
<g id="saveSorting" class="n"><rect x="1363" y="3853" width="152" height="40"/><text x="1374" y="3869.4">ilObjLinkResourceGUI</text><text class="c" x="1439" y="3884.2">\saveSorting</text></g>
<g id="confirmDelete" class="n"><rect x="1363" y="3918" width="152" height="40"/><text x="1374" y="3934.4">ilObjLinkResourceGUI</text><text class="c" x="1439" y="3949.2">\confirmDeleteLink</text></g>
<g id="saveLinkList" class="n"><rect x="1363" y="3983" width="152" height="40"/><text x="1374" y="3999.4">ilObjLinkResourceGUI</text><text class="c" x="1439" y="4014.2">\saveLinkList</text></g>
<g id="switchViewMode" class="n"><rect x="1363" y="4048" width="152" height="40"/><text x="1374" y="4064.4">ilObjLinkResourceGUI</text><text class="c" x="1439" y="4079.2">\switchViewMode</text></g>
<g id="notesExportPage" class="n"><rect x="1341" y="4166" width="198" height="40"/><text x="1352" y="4182.4">ILIAS\Notes\Export</text><text class="c" x="1440" y="4197.2">\NotesHtmlExport\exportPage</text></g>
<g id="blogExportPages" class="n"><rect x="1347" y="4231" width="185" height="40"/><text x="1358" y="4247.4">ILIAS\Blog\Export\BlogHtml</text><text class="c" x="1439.5" y="4262.2">Export\exportHTMLPages</text></g>
<g id="wikiExportPages" class="n"><rect x="1347" y="4296" width="185" height="41"/><text x="1358" y="4312.4">ILIAS\Wiki\Export\WikiHtml</text><text class="c" x="1439.5" y="4327.2">Export\exportHTMLPages</text></g>
<g id="lmResume" class="n"><rect x="1648" y="269" width="143" height="40"/><text x="1659" y="285.4">ilLMPresentationGUI</text><text class="c" x="1719.5" y="300.2">\resume</text></g>
<g id="lmExecute" class="n"><rect x="1648" y="334" width="143" height="40"/><text x="1659" y="350.4">ilLMPresentationGUI</text><text class="c" x="1719.5" y="365.2">\executeCommand</text></g>
<g id="bpExecute" class="n"><rect x="1633" y="690" width="172" height="40"/><text x="1644" y="706.4">ilBlogPostingGUI\execute</text><text class="c" x="1719" y="721.2">Command</text></g>
<g id="blogExecute" class="n"><rect x="1615" y="1121" width="208" height="25"/><text class="c" x="1719" y="1138">ilObjBlogGUI\executeCommand</text></g>
<g id="setTabs" class="n"><rect x="1645" y="1298" width="148" height="40"/><text x="1656" y="1314.4">ilObjContentPageGUI</text><text class="c" x="1719" y="1329.2">\setTabs</text></g>
<g id="performPost" class="n"><rect x="1627" y="1363" width="184" height="40"/><text x="1638" y="1379.4">ilObjForumGUI\performPost</text><text class="c" x="1719" y="1394.2">ActivationObject</text></g>
<g id="handleCensorship" class="n"><rect x="1610" y="1429" width="217" height="25"/><text class="c" x="1718.5" y="1446">ilObjForumGUI\handleCensorship</text></g>
<g id="askForPost" class="n"><rect x="1629" y="1480" width="180" height="40"/><text x="1640" y="1496.4">ilObjForumGUI\askForPost</text><text class="c" x="1719" y="1511.2">ActivationObject</text></g>
<g id="toggleStickiness" class="n"><rect x="1615" y="1546" width="208" height="40"/><text x="1626" y="1562.4">ilObjForumGUI\toggleStickiness</text><text class="c" x="1719" y="1577.2">Object</text></g>
<g id="cancelPost" class="n"><rect x="1630" y="1611" width="179" height="40"/><text x="1641" y="1627.4">ilObjForumGUI\cancelPost</text><text class="c" x="1719.5" y="1642.2">Object</text></g>
<g id="cancelDraft" class="n"><rect x="1630" y="1676" width="179" height="40"/><text x="1641" y="1692.4">ilObjForumGUI\cancelDraft</text><text class="c" x="1719.5" y="1707.2">Object</text></g>
<g id="createTopLevel" class="n"><rect x="1618" y="1741" width="202" height="40"/><text x="1629" y="1757.4">ilObjForumGUI\createTopLevel</text><text class="c" x="1719" y="1772.2">PostObject</text></g>
<g id="publishDraft" class="n"><rect x="1628" y="1807" width="183" height="40"/><text x="1639" y="1823.4">ilObjForumGUI\publishDraft</text><text class="c" x="1719.5" y="1838.2">Object</text></g>
<g id="savePost" class="n"><rect x="1616" y="1873" width="207" height="25"/><text class="c" x="1719.5" y="1890">ilObjForumGUI\savePostObject</text></g>
<g id="quotePost" class="n"><rect x="1615" y="1924" width="209" height="25"/><text class="c" x="1719.5" y="1941">ilObjForumGUI\quotePostObject</text></g>
<g id="markUnread" class="n"><rect x="1615" y="1975" width="209" height="40"/><text x="1626" y="1991.4">ilObjForumGUI\markPostUnread</text><text class="c" x="1719.5" y="2006.2">Object</text></g>
<g id="saveAsDraft" class="n"><rect x="1627" y="2040" width="185" height="40"/><text x="1638" y="2056.4">ilObjForumGUI\saveAsDraft</text><text class="c" x="1719.5" y="2071.2">Object</text></g>
<g id="updateDraft" class="n"><rect x="1629" y="2106" width="180" height="40"/><text x="1640" y="2122.4">ilObjForumGUI\updateDraft</text><text class="c" x="1719" y="2137.2">Object</text></g>
<g id="selectPost" class="n"><rect x="1632" y="2171" width="174" height="40"/><text x="1643" y="2187.4">ilObjForumGUI\selectPost</text><text class="c" x="1719" y="2202.2">Object</text></g>
<g id="testExecute" class="n"><rect x="1615" y="2614" width="208" height="26"/><text class="c" x="1719" y="2631.5">ilObjTestGUI\executeCommand</text></g>
<g id="userResults" class="n"><rect x="1633" y="2666" width="172" height="40"/><text x="1644" y="2682.4">ilObjTestGUI\userResults</text><text class="c" x="1719" y="2697.2">GatewayObject</text></g>
<g id="addNewArea" class="n"><rect x="1646" y="3690" width="146" height="40"/><text x="1657" y="3706.4">ilImageMapEditorGUI</text><text class="c" x="1719" y="3721.2">\addNewArea</text></g>
<g id="editLinks" class="n"><rect x="1643" y="4048" width="152" height="40"/><text x="1654" y="4064.4">ilObjLinkResourceGUI</text><text class="c" x="1719" y="4079.2">\editLinks</text></g>
<g id="editDraft" class="n"><rect x="1619" y="4114" width="201" height="26"/><text class="c" x="1719.5" y="4131.5">ilObjForumGUI\editDraftObject</text></g>
<g id="notesExportHTML" class="n"><rect x="1618" y="4166" width="203" height="40"/><text x="1629" y="4182.4">ILIAS\Notes\Export</text><text class="c" x="1719.5" y="4197.2">\NotesHtmlExport\exportHTML</text></g>
<g id="blogExportHTML" class="n"><rect x="1627" y="4231" width="185" height="40"/><text x="1638" y="4247.4">ILIAS\Blog\Export\BlogHtml</text><text class="c" x="1719.5" y="4262.2">Export\exportHTML</text></g>
<g id="wikiBuild" class="n"><rect x="1627" y="4296" width="185" height="41"/><text x="1638" y="4312.4">ILIAS\Wiki\Export\WikiHtml</text><text class="c" x="1719.5" y="4327.2">Export\buildExportFile</text></g>
<g id="addCensorship" class="n"><rect x="1884" y="1390" width="201" height="40"/><text x="1895" y="1406.4">ilObjForumGUI\addCensorship</text><text class="c" x="1984.5" y="1421.2">Object</text></g>
<g id="revokeCensorship" class="n"><rect x="1876" y="1455" width="219" height="40"/><text x="1887" y="1471.4">ilObjForumGUI\revokeCensorship</text><text class="c" x="1985.5" y="1486.2">Object</text></g>
<g id="publishSelected" class="n"><rect x="1882" y="1804" width="206" height="40"/><text x="1893" y="1820.4">ilObjForumGUI\publishSelected</text><text class="c" x="1985" y="1835.2">DraftObject</text></g>
<g id="saveTopLevelPost" class="n"><rect x="1888" y="1870" width="195" height="40"/><text x="1899" y="1886.4">ilObjForumGUI\saveTopLevel</text><text class="c" x="1985.5" y="1901.2">PostObject</text></g>
<g id="saveTopLevelDraft" class="n"><rect x="1888" y="2041" width="195" height="40"/><text x="1899" y="2057.4">ilObjForumGUI\saveTopLevel</text><text class="c" x="1985.5" y="2072.2">DraftObject</text></g>
</g>
</svg>
